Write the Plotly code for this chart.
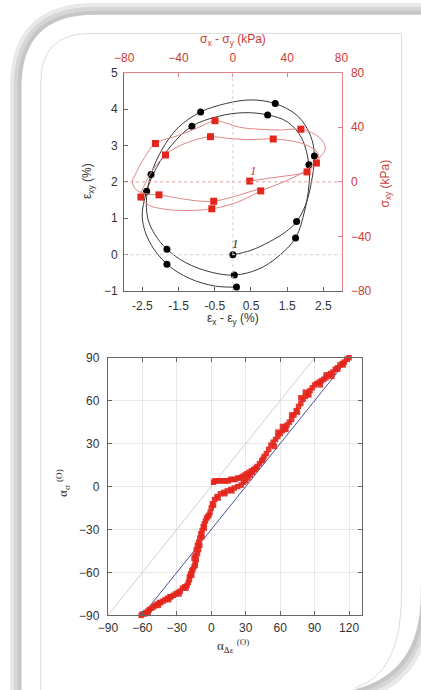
import plotly.graph_objects as go

W, H = 421, 690

# ---------------- Top panel data ----------------
# black strain path (eps_x - eps_y [%], eps_xy [%])
strain_path_x = [0, 0.5, 1.0, 1.45, 1.76, 2.0, 2.15, 2.25, 2.15, 1.8, 1.17, 0.5, -0.2, -0.89, -1.5, -1.95,
                 -2.26, -2.38, -2.35, -2.15, -1.82, -1.3, -0.6, 0.04, 0.7, 1.25, 1.73, 1.98, 2.1, 2.1, 1.9,
                 1.5, 0.96, 0.3, -0.4, -1.13, -1.7, -2.1, -2.38, -2.5, -2.3, -1.82, -1.2, -0.5, 0.1]
strain_path_y = [0, 0.12, 0.35, 0.62, 0.91, 1.35, 1.9, 2.71, 3.25, 3.8, 4.15, 4.25, 4.15, 3.92, 3.5, 2.9,
                 2.2, 1.6, 1.0, 0.55, 0.15, -0.22, -0.48, -0.56, -0.4, -0.05, 0.46, 1.2, 1.9, 2.47, 3.2,
                 3.65, 3.84, 3.9, 3.8, 3.53, 3.0, 2.4, 1.74, 1.0, 0.35, -0.26, -0.65, -0.86, -0.89]
strain_mark_x = [0.0, 1.76, 2.25, 1.17, -0.89, -2.26, -1.82, 0.04, 1.73, 2.1, 0.96, -1.13, -2.38, -1.82, 0.1]
strain_mark_y = [0.0, 0.91, 2.71, 4.15, 3.92, 2.2, 0.15, -0.56, 0.46, 2.47, 3.84, 3.53, 1.74, -0.26, -0.89]

# red stress path (sigma_x - sigma_y [kPa], sigma_xy [kPa])
stress_path_x = [12, 25, 40, 54.6, 61.5, 63, 58, 48, 29.7, 10, -5, -16.5, -30, -42, -49.6, -58, -64, -67.7,
                 -62, -50, -35, -15.5, 0, 10, 20.5, 35, 50, 58, 64, 68, 66, 60, 50.1, 35, 20, 5, -5, -13.2,
                 -25, -40, -57, -65, -72, -74, -71, -62, -54.4, -40, -25, -14.1, 0, 10, 20]
stress_path_y = [0.5, 2.5, 4.5, 7.3, 13.8, 20, 25, 29, 31.4, 31, 32, 33.1, 30, 25, 19.7, 10, 0, -11.1,
                 -17, -20, -21, -19.7, -16, -12, -6.6, -1, 6, 12, 18, 24, 30, 35, 38.6, 38, 38.5, 40, 43, 44.8,
                 40, 34, 28.1, 18, 5, 0, -6, -9, -9.5, -12, -14, -14.2, -11, -8, -5]
stress_mark_x = [12.4, 54.6, 61.5, 29.7, -16.5, -49.6, -67.7, -15.5, 20.5, 50.1, -13.2, -57.0, -54.4, -14.1]
stress_mark_y = [0.6, 7.3, 13.8, 31.4, 33.1, 19.7, -11.1, -19.7, -6.6, 38.6, 44.8, 28.1, -9.5, -14.2]

# ---------------- Bottom panel data ----------------
ref_x = [-90, 90]
ref_y = [-90, 90]
fit_x = [-60, 120]
fit_y = [-90, 90]

alpha_de = [-61, -60, -58, -57, -55, -54, -52, -50, -49, -47, -45, -44, -42, -40, -38, -36, -35, -33, -31, -29,
            -27, -25, -23, -21, -20, -19, -19, -18, -17, -16, -15, -14, -14, -13, -14, -12, -13, -12, -11, -10,
            -9, -8, -7, -6, -5, -4, -2, -1, 0, 1, 3, 5, 8, 11, 14, 17, 20, 23, 26, 28, 30, 32, 34, 36, 38, 40,
            42, 44, 46, 48, 50, 52, 54, 56, 58, 60, 62, 64, 66, 68, 70, 72, 74, 76, 78, 80, 82, 84, 86, 88, 90,
            92, 94, 96, 98, 100, 102, 104, 106, 108, 110, 112, 114, 116, 118, 120,
            2, 3, 5, 7, 9, 11, 13, 15, 17, 19, 21, 23, 25, 27, 29, 31, 33, 35, 37, 39,
            -55, -46, -37, -28, -22, -17, -15, -11, -10, -8, -6, -3, 2, 6, 12, 18, 45, 55, 65, 75, 85, 95,
            105, 115, 70, 62, 58, 78, 82, 100, 110]
alpha_sig = [-90, -89, -89, -88, -87, -86, -85, -84, -83, -82, -81, -81, -80, -79, -78, -77, -77, -76, -75, -74,
             -73, -71, -70, -69, -67, -65, -63, -61, -59, -58, -56, -55, -53, -51, -48, -47, -44, -41, -39, -36,
             -33, -31, -28, -26, -24, -22, -20, -18, -15, -12, -9, -7, -5, -4, -3, -2, -1, 0, 1, 3, 4, 6, 8, 10,
             12, 14, 16, 18, 21, 23, 26, 29, 31, 33, 35, 37, 39, 41, 43, 45, 47, 50, 53, 56, 58, 61, 63, 65, 67,
             69, 71, 72, 73, 74, 75, 76, 78, 79, 80, 82, 83, 85, 86, 87, 89, 90,
             3, 4, 4, 4, 4, 4, 4, 4, 5, 5, 5, 6, 6, 7, 8, 9, 10, 11, 12, 13,
             -88, -83, -79, -75, -71, -62, -50, -44, -41, -35, -29, -21, -13, -8, -5, -3, 19, 28, 40, 52, 64, 71,
             77, 85, 50, 42, 38, 62, 66, 78, 82]

# ---------------- styles ----------------
RED = "#e3261d"
RED_TXT = "#cc3b35"
RED_LINE = "#e08585"
DARK = "#333333"
SANS = "Liberation Sans, Arial, sans-serif"
SERIF = "Liberation Serif, Times New Roman, serif"

fig = go.Figure()

fig.add_trace(go.Scatter(x=strain_path_x, y=strain_path_y, xaxis="x", yaxis="y", mode="lines",
                         line=dict(color="#3a3a3a", width=1, shape="spline", smoothing=1.0),
                         showlegend=False, hoverinfo="skip"))
fig.add_trace(go.Scatter(x=stress_path_x, y=stress_path_y, xaxis="x2", yaxis="y2", mode="lines",
                         line=dict(color=RED_LINE, width=1, shape="spline", smoothing=1.0),
                         showlegend=False, hoverinfo="skip"))
fig.add_trace(go.Scatter(x=strain_mark_x, y=strain_mark_y, xaxis="x", yaxis="y", mode="markers",
                         marker=dict(color="black", size=7, symbol="circle"), showlegend=False,
                         cliponaxis=False))
fig.add_trace(go.Scatter(x=stress_mark_x, y=stress_mark_y, xaxis="x2", yaxis="y2", mode="markers",
                         marker=dict(color=RED, size=7, symbol="square"), showlegend=False,
                         cliponaxis=False))

fig.add_trace(go.Scatter(x=ref_x, y=ref_y, xaxis="x3", yaxis="y3", mode="lines",
                         line=dict(color="#d0d0d0", width=1), showlegend=False, hoverinfo="skip"))
fig.add_trace(go.Scatter(x=fit_x, y=fit_y, xaxis="x3", yaxis="y3", mode="lines",
                         line=dict(color="#4b4fa0", width=1), showlegend=False, hoverinfo="skip"))
fig.add_trace(go.Scatter(x=alpha_de, y=alpha_sig, xaxis="x3", yaxis="y3", mode="markers",
                         marker=dict(color=RED, size=5.5, symbol="square", opacity=0.9),
                         showlegend=False, cliponaxis=False))


def dom_x(a, b):
    return [a / W, b / W]


def dom_y(top, bot):
    return [1 - bot / H, 1 - top / H]


tickfont = dict(family=SANS, size=12, color=DARK)
redfont = dict(family=SANS, size=12, color=RED_TXT)

fig.update_layout(
    width=W, height=H, margin=dict(l=0, r=0, t=0, b=0),
    paper_bgcolor="white", plot_bgcolor="rgba(0,0,0,0)",
    xaxis=dict(domain=dom_x(119, 345.5), anchor="y", range=[-3, 3],
               tickvals=[-2.5, -1.5, -0.5, 0.5, 1.5, 2.5], ticktext=["-2.5", "-1.5", "-0.5", "0.5", "1.5", "2.5"],
               ticks="inside", ticklen=4, tickcolor="#666", showline=True, linecolor="#666", linewidth=1,
               showgrid=False, zeroline=False, tickfont=tickfont, ticklabelstandoff=3),
    yaxis=dict(domain=dom_y(67, 290), anchor="x", range=[-1, 5], dtick=1,
               ticks="inside", ticklen=4, tickcolor="#666", showline=True, linecolor="#666", linewidth=1,
               showgrid=False, zeroline=False, tickfont=tickfont, ticklabelstandoff=3),
    xaxis2=dict(overlaying="x", side="top", anchor="y", range=[-80, 80], tickvals=[-80, -40, 0, 40, 80],
                ticks="inside", ticklen=4, tickcolor=RED_LINE, showline=True, linecolor=RED_LINE, linewidth=1,
                showgrid=False, zeroline=False, tickfont=redfont, ticklabelstandoff=5),
    yaxis2=dict(overlaying="y", side="right", anchor="x", range=[-80, 80], tickvals=[-80, -40, 0, 40, 80],
                ticks="inside", ticklen=4, tickcolor=RED_LINE, showline=True, linecolor=RED_LINE, linewidth=1,
                showgrid=False, zeroline=False, tickfont=redfont, ticklabelstandoff=6),
    xaxis3=dict(domain=dom_x(102, 366.5), anchor="y3", range=[-90, 131],
                tickvals=[-90, -60, -30, 0, 30, 60, 90, 120],
                ticks="inside", ticklen=4, tickcolor="#666", showline=True, linecolor="#666", linewidth=1,
                mirror="ticks", showgrid=True, gridcolor="#e8e8e8", gridwidth=1, zeroline=False,
                tickfont=tickfont, ticklabelstandoff=1),
    yaxis3=dict(domain=dom_y(358, 621), anchor="x3", range=[-90, 90], tickvals=[-90, -60, -30, 0, 30, 60, 90],
                ticks="inside", ticklen=4, tickcolor="#666", showline=True, linecolor="#666", linewidth=1,
                mirror="ticks", showgrid=True, gridcolor="#e8e8e8", gridwidth=1, zeroline=False,
                tickfont=tickfont, ticklabelstandoff=5),
)


def P(x, y):
    return f"{x / W:.5f},{1 - y / H:.5f}"


shapes = []
# soft shadow around the card
for e in (12, 8, 4):
    path = (f"M {P(12 - e, 720)} L {P(12 - e, 82)} Q {P(12 - e, 8 - e)} {P(88, 8 - e)} "
            f"L {P(440, 8 - e)} L {P(428 + e, 600)} Q {P(428 + e, 690 + e)} {P(340, 700 + e)} L {P(12 - e, 720)} Z")
    shapes.append(dict(type="path", xref="paper", yref="paper", path=path, layer="below",
                       fillcolor="rgba(110,110,110,0.15)", line=dict(width=0)))
# the card
card = (f"M {P(12, 720)} L {P(12, 82)} Q {P(12, 8)} {P(88, 8)} L {P(440, 8)} L {P(428, 600)} "
        f"Q {P(428, 690)} {P(340, 700)} L {P(12, 720)} Z")
shapes.append(dict(type="path", xref="paper", yref="paper", path=card, layer="below",
                   fillcolor="white", line=dict(width=0)))
# thin inner border
inner = (f"M {P(32, 700)} L {P(32, 78)} Q {P(32, 27)} {P(83, 27)} L {P(408, 27)} L {P(408, 600)} "
         f"Q {P(408, 680)} {P(360, 695)}")
shapes.append(dict(type="path", xref="paper", yref="paper", path=inner, layer="below",
                   line=dict(color="#dcdcdc", width=1)))
# reference lines in the top panel
shapes.append(dict(type="line", xref="x", yref="y", x0=-3, x1=3, y0=2, y1=2,
                   line=dict(color="#e39a9a", width=1, dash="dot")))
shapes.append(dict(type="line", xref="x", yref="y", x0=-3, x1=3, y0=0, y1=0,
                   line=dict(color="#cfcfcf", width=1, dash="dot")))
shapes.append(dict(type="line", xref="x", yref="y", x0=0, x1=0, y0=-1, y1=5,
                   line=dict(color="#cfcfcf", width=1, dash="dot")))
fig.update_layout(shapes=shapes)


def ann(text, xpx, ypx, color=DARK, angle=0, size=12, family=SANS):
    return dict(text=text, xref="paper", yref="paper", x=xpx / W, y=1 - ypx / H, showarrow=False,
                textangle=angle, font=dict(family=family, size=size, color=color),
                xanchor="center", yanchor="middle")


annotations = [
    ann("ε<sub>x</sub> - ε<sub>y</sub> (%)", 232, 318),
    ann("ε<sub>xy</sub> (%)", 82, 178, angle=-90),
    ann("σ<sub>x</sub> - σ<sub>y</sub> (kPa)", 232, 34, color=RED_TXT),
    ann("σ<sub>xy</sub> (kPa)", 392, 180, color=RED_TXT, angle=-90),
    ann("α<sub>σ</sub> <sup>(O)</sup>", 55, 486, angle=-90, size=13, family=SERIF),
    ann("α<sub>Δε</sub> <sup>(O)</sup>", 232, 652, size=13, family=SERIF),
    dict(text="<i>1</i>", xref="x", yref="y", x=0.08, y=0.3, showarrow=False,
         font=dict(family=SERIF, size=13, color=DARK)),
    dict(text="<i>1</i>", xref="x2", yref="y2", x=15, y=8, showarrow=False,
         font=dict(family=SERIF, size=13, color=RED_TXT)),
]
fig.update_layout(annotations=annotations)

fig.write_html("out.html", config={"displayModeBar": False},
               post_script="document.body.style.margin='0';document.body.style.overflow='hidden';")
